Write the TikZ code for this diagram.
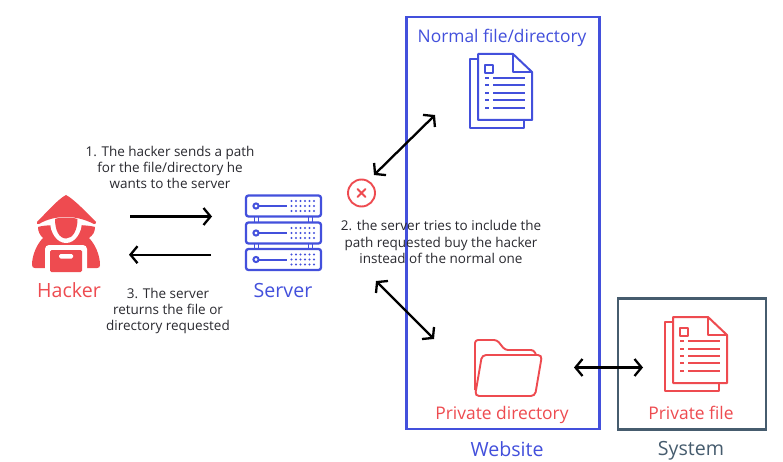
\documentclass[tikz,border=0pt]{standalone}
\usepackage{fontspec}
\setmainfont{Open Sans}
\usetikzlibrary{arrows.meta}
\definecolor{hred}{HTML}{EE4B50}
\definecolor{hblue}{HTML}{4350DC}
\definecolor{hslate}{HTML}{465C6E}
\definecolor{htext}{HTML}{2A2A30}
\tikzset{
  frame/.style={draw=#1,line width=2.8pt,fill=none},
  lab/.style={text=#1,font=\fontsize{17.4}{19}\selectfont,inner sep=0pt,anchor=center},
  biglab/.style={text=#1,font=\fontsize{19.6}{22}\selectfont,inner sep=0pt,anchor=center},
  note/.style={text=htext,font=\fontsize{13.5}{16.4}\selectfont,inner sep=0pt,align=center,anchor=center},
  conn/.style={draw=black,line width=2.3pt,-{Straight Barb[length=7pt,width=17pt,line width=2.3pt]}},
  biconn/.style={draw=black,line width=2.3pt,{Straight Barb[length=7pt,width=17pt,line width=2.3pt]}-{Straight Barb[length=7pt,width=17pt,line width=2.3pt]}},
  pics/docicon/.style={code={
    \begin{scope}[draw=#1,line width=2pt,line join=round]
      \draw (478,59) -- (470,59) -- (470,128) -- (524,128) -- (524,120);
      \draw (478,54) -- (513,54) -- (532,72) -- (532,120) -- (478,120) -- cycle;
      \draw (513,54) -- (513,72) -- (532,72);
      \draw (485,65) rectangle (493,73);
      \foreach \y in {78,85.5,93,100,108} {
        \draw (485,\y) -- (489,\y);
        \draw (493,\y) -- (525,\y);
      }
    \end{scope}
  }},
  pics/srvunit/.style={code={
    \draw[draw=hblue,line width=2.3pt,rounded corners=2.5pt] (246,-10.5) rectangle (321,10.5);
    \draw[draw=hblue,line width=2pt] (256,0) circle (2.6);
    \draw[draw=hblue,line width=2pt] (258.6,0) -- (287,0);
    \foreach \x in {291.5,296,300.5,305,309.5,314} \foreach \y in {-5,0,5}
      \fill[hblue] (\x,\y) circle (1.2);
  }}
}
\begin{document}
\begin{tikzpicture}[x=1pt,y=-1pt]
\useasboundingbox (0,0) rectangle (783,462);
\fill[white] (0,0) rectangle (783,462);

% frames
\node[frame=hblue,minimum width=193pt,minimum height=412pt,inner sep=0pt,outer sep=0pt] (website) at (503,223) {};
\node[frame=hslate,minimum width=148pt,minimum height=131pt,inner sep=0pt,outer sep=0pt] (system) at (692,364) {};

% hacker icon: body, white hood ring, face, laptop, hat
\fill[hred] (38,227) .. controls (46,224) and (86,224) .. (95,227)
  .. controls (95,232) and (93,235) .. (89,238)
  .. controls (95,244) and (100,255) .. (100,265)
  .. controls (100,267) and (99,268) .. (97,268)
  -- (35,268)
  .. controls (33,268) and (32,267) .. (32,265)
  .. controls (32,255) and (37,244) .. (43,238)
  .. controls (40,235) and (38,232) .. (38,227) -- cycle;
\fill[white] (66,221) ellipse [x radius=16,y radius=22];
\fill[hred] (55,219) .. controls (60,217) and (72,217) .. (77.5,219)
  .. controls (77.5,230) and (73,238.5) .. (66,238.5)
  .. controls (59,238.5) and (55,230) .. (55,219) -- cycle;
\fill[white,rounded corners=4pt] (45,245) rectangle (87,276);
\fill[hred,rounded corners=1.5pt] (50,250) rectangle (82,272);
\fill[white,rounded corners=1.5pt] (59,254) rectangle (73,258.5);
\fill[hred] (66,195) .. controls (74,199) and (88,214) .. (96,222)
  .. controls (96,224) and (95,224.5) .. (94,224)
  .. controls (84,219) and (75,217) .. (66,217)
  .. controls (57,217) and (47,219) .. (39,224)
  .. controls (38,224.5) and (36,224) .. (37,222)
  .. controls (45,214) and (58,199) .. (66,195) -- cycle;

% server icon
\pic at (0,206) {srvunit};
\pic at (0,233) {srvunit};
\pic at (0,259.5) {srvunit};
\foreach \x in {256.5,310.5} {
  \draw[hblue,line width=1.8pt] (\x-2,217) -- (\x-2,222.5) (\x+2,217) -- (\x+2,222.5);
  \draw[hblue,line width=1.8pt] (\x-2,244) -- (\x-2,249) (\x+2,244) -- (\x+2,249);
}

% documents
\pic at (0,0) {docicon=hblue};
\pic at (195,263) {docicon=hred};

% folder icon
\draw[hred,line width=1.9pt,line join=round,rounded corners=3pt]
  (475,390) -- (475,340) -- (497,340) -- (505,350) -- (534,350) -- (536,355);
\draw[hred,line width=1.9pt,rounded corners=4pt]
  (475,396) -- (482,355) -- (542,355) -- (535,396) -- cycle;

% error mark
\node[draw=hred,line width=1.9pt,circle,minimum size=27pt,inner sep=0pt] (err) at (361.5,193) {};
\draw[hred,line width=1.9pt,line cap=round] (err.center) ++(-4,-4) -- ++(8,8) (err.center) ++(-4,4) -- ++(8,-8);

% labels
\node[biglab=hred] (hacker) at (69,290) {Hacker};
\node[biglab=hblue] (server) at (283,290) {Server};
\node[lab=hblue] (normal) at (502,37.5) {Normal file/directory};
\node[lab=hred] (privdir) at (502,415) {Private directory};
\node[lab=hred] (privfile) at (691,413) {Private file};
\node[biglab=hblue] (weblab) at (507,449) {Website};
\node[biglab=hslate] (syslab) at (691,451) {System};

% notes
\node[note] (n1) at (170,167.5) {1. The hacker sends a path\\ for the file/directory he\\ wants to the server};
\node[note] (n2) at (441,242) {2. the server tries to include the\\ path requested buy the hacker\\ instead of the normal one};
\node[note] (n3) at (168,311) {3. The server\\ returns the file or\\ directory requested};

% connector ends
\coordinate (a1s) at (130,216.5);
\coordinate (a1e) at (212,216.5);
\coordinate (a2s) at (211,254.7);
\coordinate (a2e) at (129,254.7);
\coordinate (a3s) at (374,175);
\coordinate (a3e) at (435,115);
\coordinate (a4s) at (376,281);
\coordinate (a4e) at (434,339);
\coordinate (a5s) at (574,367.5);
\coordinate (a5e) at (643,367.5);
\draw[conn] (a1s) -- (a1e);
\draw[conn] (a2s) -- (a2e);
\draw[biconn] (a3s) -- (a3e);
\draw[biconn] (a4s) -- (a4e);
\draw[biconn] (a5s) -- (a5e);
\end{tikzpicture}
\end{document}
